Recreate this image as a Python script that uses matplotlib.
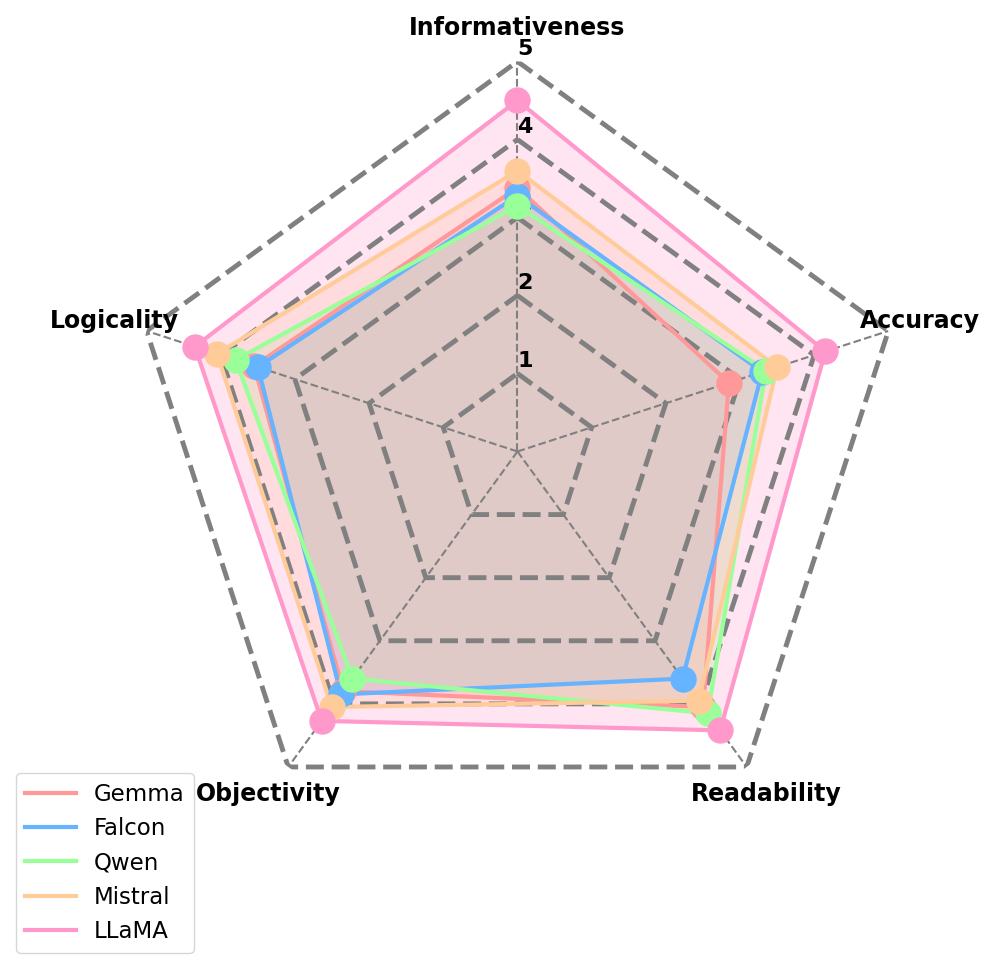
import matplotlib
matplotlib.use("Agg")
import matplotlib.pyplot as plt
import numpy as np

# categorias (sentido horario desde arriba)
categorias = ["Informativeness", "Accuracy", "Readability", "Objectivity", "Logicality"]
modelos = ["Gemma", "Falcon", "Qwen", "Mistral", "LLaMA"]
colores = ["#ff9999", "#66b3ff", "#99ff99", "#ffcc99", "#ff99cc"]

gemma = [3.38, 2.85, 4.05, 3.80, 3.55]
falcon = [3.28, 3.30, 3.60, 3.85, 3.50]
qwen = [3.15, 3.35, 4.15, 3.60, 3.80]
mistral = [3.60, 3.50, 3.95, 4.05, 4.05]
llama = [4.50, 4.15, 4.42, 4.27, 4.35]
valores = [gemma, falcon, qwen, mistral, llama]

niveles = [1, 2, 3, 4, 5]

n = len(categorias)
ang = np.linspace(0, 2 * np.pi, n, endpoint=False)
ang_c = np.concatenate([ang, ang[:1]])

fig = plt.figure(figsize=(9.96, 9.71), dpi=100)
ax = fig.add_axes([0.128, 0.1334, 0.7831, 0.8033], polar=True)
ax.set_theta_offset(np.pi / 2)
ax.set_theta_direction(-1)
ax.set_ylim(0, 5)
ax.spines["polar"].set_visible(False)
ax.grid(False)
ax.set_xticks([]); ax.set_yticks([])

# radios
for a in ang:
    ax.plot([a, a], [0, 5], ls="--", color="gray", lw=1.5, zorder=2)
# anillos pentagonales
for lv in niveles:
    ax.plot(ang_c, [lv] * (n + 1), ls="--", color="gray", lw=3.5, zorder=2,
            solid_joinstyle="round", dash_joinstyle="round")
    ax.text(0, lv + 0.08, str(lv), ha="left", va="baseline", fontsize=16,
            fontweight="bold", zorder=2)

for nom, col, v in zip(modelos, colores, valores):
    vc = v + v[:1]
    ax.fill(ang_c, vc, color=col, alpha=0.25, zorder=1)
    ax.plot(ang_c, vc, color=col, lw=3, label=nom, zorder=3)
    ax.plot(ang, v, "o", color=col, ms=18, zorder=4)

for a, c in zip(ang, categorias):
    ax.text(a, 5.43, c, ha="center", va="center", fontsize=17,
            fontweight="bold", clip_on=False)

fig.legend(loc="lower left", bbox_to_anchor=(0.016, 0.019), borderaxespad=0,
           fontsize=16.5, handlelength=2.2)
fig.savefig("out.png", dpi=100)
